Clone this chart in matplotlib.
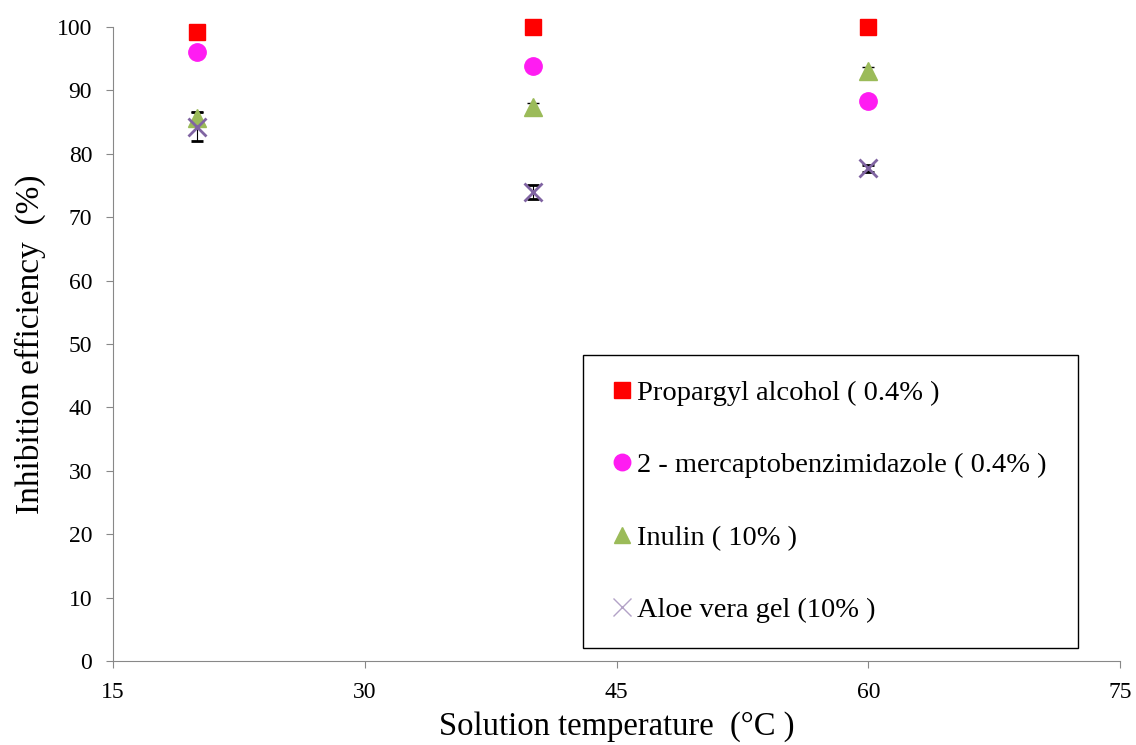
import matplotlib.pyplot as plt

plt.rcParams['font.family'] = ['Liberation Serif', 'DejaVu Serif']

temps = [20, 40, 60]
propargyl = [99.2, 100.0, 100.0]
propargyl_err = [0.3, 0.2, 0.2]
mbi = [96.0, 93.8, 88.4]
mbi_err = [0.3, 0.3, 0.6]
inulin = [85.6, 87.4, 93.1]
inulin_err = [1.0, 0.6, 0.6]
aloe = [84.3, 73.9, 77.7]
aloe_err = [2.3, 1.1, 0.6]

labels = ["Propargyl alcohol ( 0.4% )",
          "2 - mercaptobenzimidazole ( 0.4% )",
          "Inulin ( 10% )",
          "Aloe vera gel (10% )"]

fig = plt.figure(figsize=(11.36, 7.45), dpi=100)
ax = fig.add_axes([0.0995, 0.1128, 0.8865, 0.851])

common = dict(ecolor='black', elinewidth=0.8, capsize=4.5, capthick=0.8)
series = [
    (propargyl, propargyl_err, 's', '#ff0000', 12),
    (mbi, mbi_err, 'o', '#ff1cf2', 12.5),
    (inulin, inulin_err, '^', '#9bbb59', 12.5),
    (aloe, aloe_err, 'x', '#8064a2', 13),
]
for (vals, errs, mk, col, ms), lab in zip(series, labels):
    lines = ax.errorbar(temps, vals, yerr=errs, fmt=mk, color=col, ms=ms,
                        mew=2 if mk == 'x' else 1, label=lab, **common)
    lines[0].set_clip_on(False)
    for c in lines[1]:
        c.set_clip_on(False)
    for b in lines[2]:
        b.set_clip_on(False)

ax.set_xlim(15, 75)
ax.set_ylim(0, 100)
ax.set_xticks([15, 30, 45, 60, 75])
ax.set_yticks(range(0, 101, 10))
ax.spines['top'].set_visible(False)
ax.spines['right'].set_visible(False)
ax.spines['left'].set_color('#888888')
ax.spines['bottom'].set_color('#888888')
ax.tick_params(labelsize=17, direction='out', length=5, color='#888888', pad=10)
ax.set_xlabel('Solution temperature  (°C )', fontsize=23.5, labelpad=6)
ax.set_ylabel('Inhibition efficiency  (%)', fontsize=24, labelpad=8)

handles, labs = ax.get_legend_handles_labels()
handles = [h[0] for h in handles]
leg = ax.legend(handles, labs, loc='upper left', bbox_to_anchor=(0.4667, 0.4826, 0.4913, 0.0),
                mode='expand', fontsize=20.5, frameon=True, fancybox=False,
                edgecolor='black', labelspacing=1.63, handletextpad=0.02,
                handlelength=1.0, borderpad=0.88, borderaxespad=0, markerscale=0.95)
leg.get_frame().set_linewidth(1)
leg.get_frame().set_alpha(1)
leg.legend_handles[3].set_markeredgewidth(1)
leg.legend_handles[3].set_color('#b3a2c7')

fig.savefig('out.png', dpi=100)
